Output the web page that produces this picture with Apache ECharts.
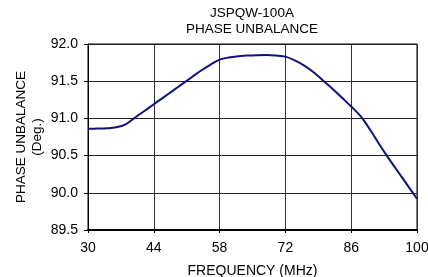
<!DOCTYPE html>
<html>
<head>
<meta charset="utf-8">
<script src="https://cdn.jsdelivr.net/npm/echarts@6/dist/echarts.min.js"></script>
<style>
  html, body { margin: 0; padding: 0; background: #fff; }
  #main { width: 428px; height: 277px; }
</style>
</head>
<body>
<div id="main"></div>
<script>
// frequency (MHz) / phase unbalance (deg)
var freq = [30, 32, 34, 36, 38, 40, 42, 44, 46, 48, 50, 52, 54, 56, 58, 60, 62, 64, 66, 68,
            70, 72, 74, 76, 78, 80, 82, 84, 86, 88, 90, 92, 94, 96, 98, 100];
var phase = [90.86, 90.863, 90.867, 90.88, 90.92, 91.01, 91.10, 91.19, 91.28, 91.37, 91.46, 91.55,
             91.64, 91.72, 91.79, 91.82, 91.835, 91.845, 91.85, 91.852, 91.845, 91.83, 91.78,
             91.71, 91.62, 91.51, 91.40, 91.28, 91.16, 91.03, 90.85, 90.65, 90.46, 90.28, 90.10, 89.92];
var xTicks = [30, 44, 58, 72, 86, 100];

var font = 'Liberation Sans, Arial, sans-serif';
var myChart = echarts.init(document.getElementById('main'), null, {renderer: 'canvas'});

var pts = [];
for (var i = 0; i < freq.length; i++) {
    pts.push([freq[i], phase[i]]);
}

var option = {
    backgroundColor: '#fff',
    animation: false,
    title: {
        text: 'JSPQW-100A\nPHASE UNBALANCE',
        left: 252,
        top: 5,
        padding: 0,
        textAlign: 'center',
        textStyle: {
            fontFamily: font,
            fontSize: 13.5,
            fontWeight: 'normal',
            color: '#000',
            lineHeight: 16
        }
    },
    grid: {
        left: 88,
        right: 11,
        top: 44,
        bottom: 47,
        outerBoundsMode: 'none',
        containLabel: false,
        show: true,
        borderColor: '#000',
        borderWidth: 1
    },
    xAxis: {
        type: 'value',
        min: 30,
        max: 100,
        name: 'FREQUENCY (MHz)',
        nameLocation: 'middle',
        nameGap: 34,
        nameMoveOverlap: false,
        nameTextStyle: { fontFamily: font, fontSize: 14, color: '#000' },
        axisLine: { show: true, onZero: false, lineStyle: { color: '#000', width: 2 } },
        axisTick: { show: true, length: 3, inside: false, customValues: xTicks, lineStyle: { color: '#000' } },
        axisLabel: {
            customValues: xTicks,
            margin: 11,
            fontFamily: font,
            fontSize: 14,
            color: '#000'
        },
        splitLine: { show: true, lineStyle: { color: '#333', width: 1 } }
    },
    yAxis: {
        type: 'value',
        min: 89.5,
        max: 92,
        interval: 0.5,
        name: 'PHASE UNBALANCE\n(Deg.)',
        nameLocation: 'middle',
        nameGap: 43,
        nameRotate: 90,
        nameMoveOverlap: false,
        nameTextStyle: { fontFamily: font, fontSize: 13.5, color: '#000', lineHeight: 16 },
        axisLine: { show: true, lineStyle: { color: '#000', width: 1 } },
        axisTick: { show: true, length: 4, lineStyle: { color: '#000' } },
        axisLabel: {
            margin: 10,
            fontFamily: font,
            fontSize: 14,
            color: '#000',
            formatter: function (v) { return v.toFixed(1); }
        },
        splitLine: { show: true, lineStyle: { color: '#222', width: 1 } }
    },
    series: [
        {
            name: 'Phase Unbalance',
            type: 'line',
            smooth: 0.35,
            showSymbol: false,
            data: pts,
            lineStyle: { color: '#10107f', width: 2 },
            itemStyle: { color: '#10107f' }
        }
    ]
};
myChart.setOption(option);
</script>
</body>
</html>
